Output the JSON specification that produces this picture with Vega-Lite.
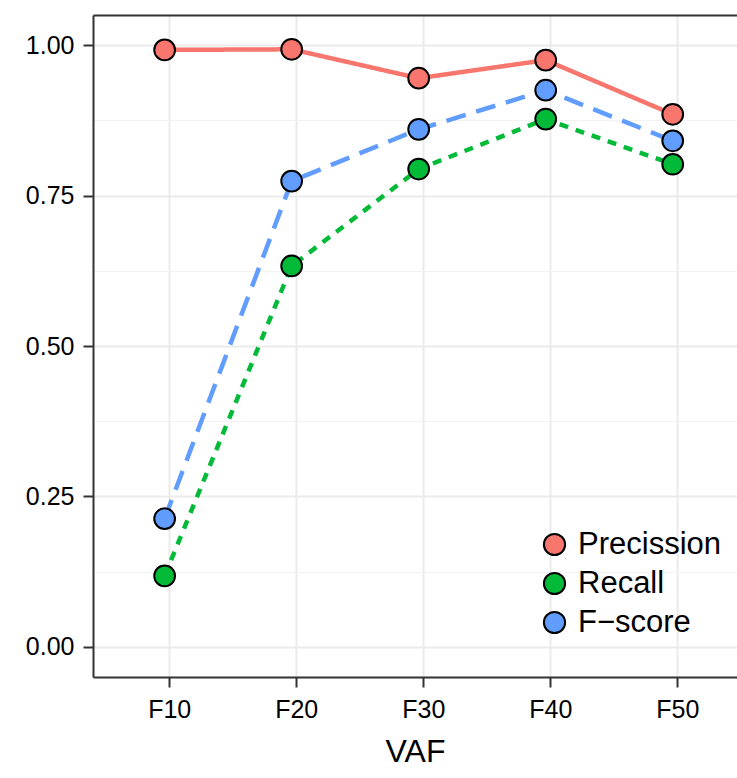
{
  "$schema": "https://vega.github.io/schema/vega-lite/v6.json",
  "autosize": {"type": "none"},
  "width": 644,
  "height": 662,
  "padding": {"left": 93, "top": 15, "right": 0, "bottom": 101},
  "background": "white",
  "config": {
    "view": {"stroke": null},
    "font": "Liberation Sans",
    "axis": {"labelFont": "Liberation Sans", "titleFont": "Liberation Sans", "labelColor": "#000000", "titleColor": "#000000", "titleFontWeight": "normal"},
    "legend": {"labelFont": "Liberation Sans"}
  },
  "data": {
    "values": [
      {"vaf": 10, "metric": "Precission", "value": 0.992},
      {"vaf": 20, "metric": "Precission", "value": 0.993},
      {"vaf": 30, "metric": "Precission", "value": 0.945},
      {"vaf": 40, "metric": "Precission", "value": 0.975},
      {"vaf": 50, "metric": "Precission", "value": 0.885},
      {"vaf": 10, "metric": "Recall", "value": 0.118},
      {"vaf": 20, "metric": "Recall", "value": 0.633},
      {"vaf": 30, "metric": "Recall", "value": 0.794},
      {"vaf": 40, "metric": "Recall", "value": 0.877},
      {"vaf": 50, "metric": "Recall", "value": 0.802},
      {"vaf": 10, "metric": "F−score", "value": 0.213},
      {"vaf": 20, "metric": "F−score", "value": 0.774},
      {"vaf": 30, "metric": "F−score", "value": 0.860},
      {"vaf": 40, "metric": "F−score", "value": 0.925},
      {"vaf": 50, "metric": "F−score", "value": 0.841}
    ]
  },
  "layer": [
    {
      "mark": {"type": "point", "opacity": 0},
      "encoding": {
        "x": {
          "field": "vaf", "type": "quantitative",
          "scale": {"domain": [4, 54.7], "nice": false, "zero": false},
          "axis": {
            "orient": "bottom", "values": [10, 20, 30, 40, 50],
            "labelExpr": "'F' + datum.value",
            "grid": true, "gridColor": "#EBEBEB", "gridWidth": 2,
            "domain": true, "domainColor": "#333333", "domainWidth": 2,
            "ticks": true, "tickColor": "#333333", "tickSize": 10, "tickWidth": 2,
            "labelFontSize": 25, "labelPadding": 10,
            "title": "VAF", "titleFontSize": 32, "titlePadding": 14
          }
        },
        "y": {
          "field": "value", "type": "quantitative",
          "scale": {"domain": [-0.05, 1.05], "nice": false, "zero": false},
          "axis": {
            "orient": "left", "values": [0, 0.25, 0.5, 0.75, 1], "format": ".2f",
            "grid": true, "gridColor": "#EBEBEB", "gridWidth": 2,
            "domain": true, "domainColor": "#333333", "domainWidth": 2,
            "ticks": true, "tickColor": "#333333", "tickSize": 10, "tickWidth": 2,
            "labelFontSize": 25, "labelPadding": 9, "title": null
          }
        }
      }
    },
    {
      "mark": {"type": "point", "opacity": 0},
      "encoding": {
        "x": {
          "field": "vaf", "type": "quantitative",
          "scale": {"domain": [4, 54.7], "nice": false, "zero": false},
          "axis": {
            "orient": "top", "labels": false, "ticks": false, "grid": false,
            "domain": true, "domainColor": "#333333", "domainWidth": 2, "title": null
          }
        },
        "y": {
          "field": "value", "type": "quantitative",
          "axis": {
            "orient": "left", "values": [0.125, 0.375, 0.625, 0.875],
            "grid": true, "gridColor": "#F2F2F2", "gridWidth": 1.2,
            "labels": false, "ticks": false, "domain": false, "title": null
          }
        }
      }
    },
    {
      "mark": {"type": "line", "strokeWidth": 4.5, "strokeCap": "butt"},
      "encoding": {
        "x": {"field": "vaf", "type": "quantitative", "scale": {"domain": [4.36, 55.06], "nice": false, "zero": false}, "axis": null},
        "y": {"field": "value", "type": "quantitative", "axis": null},
        "stroke": {
          "field": "metric", "type": "nominal",
          "scale": {"domain": ["Precission", "Recall", "F−score"], "range": ["#F8766D", "#00BA38", "#619CFF"]},
          "legend": null
        },
        "strokeDash": {
          "field": "metric", "type": "nominal",
          "scale": {"domain": ["Precission", "Recall", "F−score"], "range": [[1, 0], [9, 8], [20, 11]]},
          "legend": null
        }
      }
    },
    {
      "mark": {"type": "point", "shape": "circle", "filled": true, "opacity": 1, "size": 430, "stroke": "#000000", "strokeWidth": 2},
      "encoding": {
        "x": {"field": "vaf", "type": "quantitative", "scale": {"domain": [4.36, 55.06], "nice": false, "zero": false}, "axis": null},
        "y": {"field": "value", "type": "quantitative", "axis": null},
        "fill": {
          "field": "metric", "type": "nominal",
          "scale": {"domain": ["Precission", "Recall", "F−score"], "range": ["#F8766D", "#00BA38", "#619CFF"]},
          "legend": {
            "orient": "none", "legendX": 446, "legendY": 514, "title": null, "padding": 0,
            "symbolType": "circle", "symbolSize": 450, "symbolStrokeColor": "#000000", "symbolStrokeWidth": 2,
            "symbolOpacity": 1,
            "labelFontSize": 31, "labelColor": "#000000", "labelOffset": 8, "labelLimit": 0, "rowPadding": 7
          }
        }
      }
    }
  ],
  "resolve": {
    "scale": {"x": "independent"},
    "axis": {"x": "independent", "y": "independent"},
    "legend": {"fill": "independent", "stroke": "independent", "strokeDash": "independent"}
  }
}
